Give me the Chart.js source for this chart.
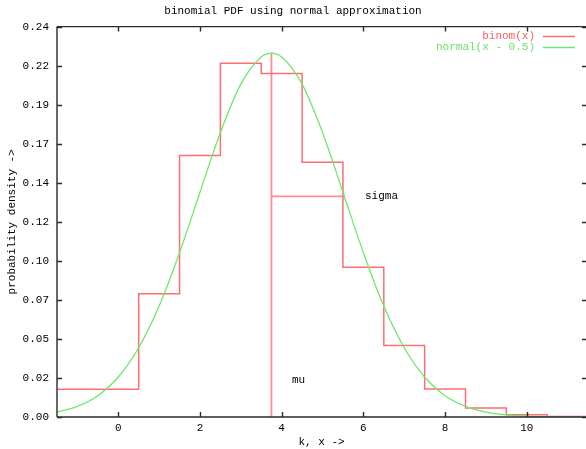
<!DOCTYPE html>
<html>
<head>
<meta charset="utf-8">
<script src="https://cdn.jsdelivr.net/npm/chart.js@4/dist/chart.umd.min.js"></script>
<style>
html,body{margin:0;padding:0;background:#fff;}
#wrap{width:586px;height:449px;position:relative;}
</style>
</head>
<body>
<div id="wrap"><canvas id="c" width="586" height="449"></canvas></div>
<script>
// ---- data ----
const titleText = 'binomial PDF using normal approximation';
const xTitle = 'k, x ->';
const yTitle = 'probability density ->';

// binomial step edges (left edge of each step) and heights
const binomEdges  = [-1.5, 0.5, 1.5, 2.5, 3.5, 4.5, 5.5, 6.5, 7.5, 8.5, 9.5, 10.5, 11.45];
const binomValues = [0.0170, 0.0757, 0.1607, 0.2175, 0.2112, 0.1566, 0.0920, 0.0440, 0.0172, 0.0056, 0.0014, 0.0003, 0.0003];

// normal(x - 0.5) curve
const normalX = [-1.5, -1.0, -0.5, 0.0, 0.5, 1.0, 1.5, 2.0, 2.5, 3.0, 3.5, 3.75, 4.0, 4.5, 5.0, 5.5, 6.0, 6.5, 7.0, 7.5, 8.0, 8.5, 9.0, 9.5, 10.0, 10.5, 11.0, 11.45];
const normalY = [0.0030, 0.0065, 0.0131, 0.0246, 0.0426, 0.0682, 0.1010, 0.1382, 0.1749, 0.2046, 0.2213, 0.2237, 0.2213, 0.2046, 0.1749, 0.1382, 0.1010, 0.0682, 0.0426, 0.0246, 0.0131, 0.0065, 0.0030, 0.0013, 0.0005, 0.0002, 0.0001, 0.00002];

// mu / sigma markers
const mu = 3.75;
const muTop = 0.2237;
const sigmaEnd = 5.535;
const sigmaY = 0.1356;

// text labels in data coordinates
const noteTexts = ['mu', 'sigma'];
const noteX = [4.25, 6.04];
const noteY = [0.0227, 0.1356];

// axis ticks
const xTickValues = [0, 2, 4, 6, 8, 10];
const yTickValues = [0, 0.024, 0.048, 0.072, 0.096, 0.12, 0.144, 0.168, 0.192, 0.216, 0.24];
const xMin = -1.5, xMax = 11.45, yMin = 0, yMax = 0.24;

const seriesLabels = ['binom(x)', 'normal(x - 0.5)'];

// ---- styles ----
const RED = 'rgb(255,110,110)';
const GREEN = 'rgb(110,232,110)';
const RED_TXT = 'rgb(255,90,90)';
const GREEN_TXT = 'rgb(100,228,100)';
const FONT = '"Liberation Mono", "DejaVu Sans Mono", monospace';
Chart.defaults.font.family = FONT;
Chart.defaults.font.size = 11;
Chart.defaults.color = '#000';

const pts = (xs, ys) => xs.map((x, i) => ({x: x, y: ys[i]}));

const framePlugin = {
  id: 'frame',
  afterDatasetsDraw(chart) {
    const {ctx, chartArea: a, scales} = chart;
    const xs = scales.x, ys = scales.y;
    ctx.save();
    ctx.strokeStyle = '#2a2a2a';
    ctx.lineWidth = 1.4;
    ctx.beginPath();
    ctx.moveTo(a.left, a.top); ctx.lineTo(a.right, a.top);
    ctx.moveTo(a.left, a.top); ctx.lineTo(a.left, a.bottom);
    ctx.moveTo(a.left, a.bottom); ctx.lineTo(a.right, a.bottom);
    const tl = 5;
    xTickValues.forEach(v => {
      const px = Math.round(xs.getPixelForValue(v)) + 0.5;
      ctx.moveTo(px, a.bottom); ctx.lineTo(px, a.bottom - tl);
      ctx.moveTo(px, a.top); ctx.lineTo(px, a.top + tl);
    });
    yTickValues.forEach(v => {
      const py = Math.round(ys.getPixelForValue(v)) + 0.5;
      ctx.moveTo(a.left, py); ctx.lineTo(a.left + tl, py);
      ctx.moveTo(a.right + 1, py); ctx.lineTo(a.right - tl + 1, py);
    });
    ctx.stroke();

    // notes
    ctx.fillStyle = '#000';
    ctx.font = '11px ' + FONT;
    ctx.textAlign = 'left';
    ctx.textBaseline = 'middle';
    noteTexts.forEach((t, i) => {
      ctx.fillText(t, xs.getPixelForValue(noteX[i]), ys.getPixelForValue(noteY[i]));
    });

    // legend (right aligned text, sample line to the right)
    const txtCols = [RED_TXT, GREEN_TXT];
    const lineCols = [RED, GREEN];
    ctx.textAlign = 'right';
    seriesLabels.forEach((lab, i) => {
      const y = 36 + i * 10.7;
      ctx.fillStyle = txtCols[i];
      ctx.fillText(lab, 535, y);
      ctx.strokeStyle = lineCols[i];
      ctx.lineWidth = 1.5;
      ctx.beginPath();
      ctx.moveTo(543, Math.round(y) + 0.5); ctx.lineTo(575, Math.round(y) + 0.5);
      ctx.stroke();
    });
    ctx.restore();
  }
};

new Chart(document.getElementById('c'), {
  type: 'scatter',
  data: {
    datasets: [
      {
        label: seriesLabels[1],
        data: pts(normalX, normalY),
        showLine: true, borderColor: GREEN, borderWidth: 1.3,
        pointRadius: 0, cubicInterpolationMode: 'monotone', fill: false
      },
      {
        label: seriesLabels[0],
        data: pts(binomEdges, binomValues),
        showLine: true, stepped: 'before', borderColor: RED, borderWidth: 1.5,
        pointRadius: 0, fill: false
      },
      {
        label: 'mu',
        data: [{x: mu, y: 0}, {x: mu, y: muTop}],
        showLine: true, borderColor: 'rgb(255,140,140)', borderWidth: 1.8, pointRadius: 0
      },
      {
        label: 'sigma',
        data: [{x: mu, y: sigmaY}, {x: sigmaEnd, y: sigmaY}],
        showLine: true, borderColor: 'rgb(255,140,140)', borderWidth: 1.8, pointRadius: 0
      }
    ]
  },
  options: {
    responsive: false,
    animation: false,
    devicePixelRatio: 1,
    layout: {padding: 0},
    plugins: {
      legend: {display: false},
      tooltip: {enabled: false},
      title: {
        display: true, text: titleText, color: '#000',
        font: {family: FONT, size: 11, weight: 'normal'},
        padding: {top: 4.4, bottom: 9}
      }
    },
    scales: {
      x: {
        type: 'linear', min: xMin, max: xMax,
        grid: {display: false, drawTicks: false},
        border: {display: false},
        afterBuildTicks: s => { s.ticks = xTickValues.map(v => ({value: v})); },
        afterFit: s => { s.height = 32; },
        ticks: {padding: 4.5, maxRotation: 0, autoSkip: false, color: '#000', callback: v => String(v)},
        title: {display: true, text: xTitle, color: '#000', padding: {top: 0, bottom: 0}}
      },
      y: {
        type: 'linear', min: yMin, max: yMax,
        grid: {display: false, drawTicks: false},
        border: {display: false},
        afterBuildTicks: s => { s.ticks = yTickValues.map(v => ({value: v})); },
        afterFit: s => { s.width = 57; },
        ticks: {padding: 8, autoSkip: false, color: '#000', callback: v => Number(v).toFixed(2)},
        title: {display: true, text: yTitle, color: '#000', padding: {top: 5, bottom: 0}}
      }
    }
  },
  plugins: [framePlugin]
});
</script>
</body>
</html>
